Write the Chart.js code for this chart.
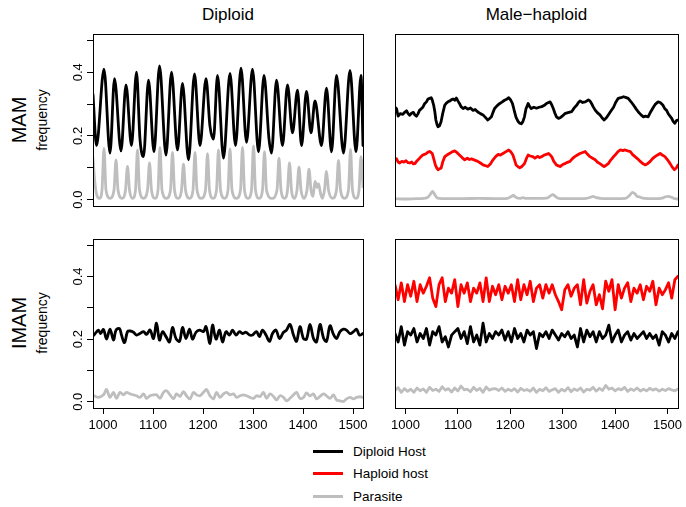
<!DOCTYPE html>
<html><head><meta charset="utf-8">
<script src="https://cdn.jsdelivr.net/npm/chart.js@4/dist/chart.umd.min.js"></script>
<style>
body{margin:0;width:686px;height:507px;background:#fff;position:relative;overflow:hidden;font-family:"Liberation Sans",Arial,Helvetica,sans-serif;color:#000}
canvas{position:absolute}
.title{position:absolute;text-align:center;font-size:17px;line-height:17px;white-space:nowrap}
.rot{position:absolute;transform:translate(-50%,-50%) rotate(-90deg);white-space:nowrap;line-height:1}
.lgl{position:absolute;left:313px;width:30px;height:3px}
.lgt{position:absolute;left:353px;font-size:13.5px;line-height:14px;white-space:nowrap}
</style></head><body>
<canvas id="tl" width="320" height="192" style="left:53px;top:24px"></canvas>
<canvas id="tr" width="301" height="192" style="left:385px;top:24px"></canvas>
<canvas id="bl" width="320" height="214" style="left:53px;top:229px"></canvas>
<canvas id="br" width="301" height="214" style="left:385px;top:229px"></canvas>

<div class="title" style="left:93px;width:270px;top:6px">Diploid</div>
<div class="title" style="left:395px;width:283px;top:6px">Male&#8722;haploid</div>
<div class="rot" style="left:19px;top:120px;font-size:20px">MAM</div>
<div class="rot" style="left:42px;top:120px;font-size:14px">frequency</div>
<div class="rot" style="left:19px;top:323px;font-size:20px">IMAM</div>
<div class="rot" style="left:42px;top:323px;font-size:14px">frequency</div>

<div class="lgl" style="top:450px;background:#000"></div>
<div class="lgt" style="top:445px">Diploid Host</div>
<div class="lgl" style="top:472px;background:#ff0000"></div>
<div class="lgt" style="top:467px">Haploid host</div>
<div class="lgl" style="top:495px;background:#bebebe"></div>
<div class="lgt" style="top:490px">Parasite</div>

<script>
// ---------- axis ticks ----------
const xTickValues = [1000, 1100, 1200, 1300, 1400, 1500];
const yTickValues = [0, 0.1, 0.2, 0.3, 0.4, 0.5];
const yTickLabels = ['0.0', '', '0.2', '', '0.4', ''];

// ---------- MAM / Diploid ----------
const tlHostX = [980,987,1002,1014,1023,1036,1046,1057,1067,1074,
  1081,1091,1102,1113,1126,1137,1149,1159,1171,1183,
  1194,1206,1214,1221,1229,1241,1254,1265,1276,1287,
  1299,1311,1322,1332,1337,1347,1359,1369,1379,1389,
  1397,1407,1416,1424,1437,1447,1457,1467,1481,1494,
  1506,1516,1520];
const tlHostY = [0.33,0.17,0.41,0.146,0.38,0.153,0.36,0.17,0.40,0.19,
  0.135,0.375,0.15,0.42,0.14,0.40,0.156,0.365,0.125,0.395,
  0.17,0.38,0.23,0.19,0.39,0.13,0.396,0.17,0.413,0.18,
  0.41,0.15,0.39,0.19,0.146,0.375,0.17,0.36,0.21,0.344,
  0.17,0.34,0.21,0.31,0.17,0.35,0.15,0.39,0.146,0.406,
  0.15,0.39,0.17];
const tlParaX = [980,984,988,993,998,
  1002,1006,1014,1022, 1026,1030,1038,1045, 1049,1053,1059,1065, 1069,1073,1081,1089,
  1093,1097,1104,1110, 1114,1118,1127,1135, 1139,1143,1150,1157, 1161,1165,1173,1180,
  1184,1188,1197,1205, 1209,1213,1220,1227, 1231,1235,1243,1250, 1254,1258,1267,1275,
  1279,1283,1290,1297, 1301,1305,1312,1319, 1323,1327,1338,1348, 1352,1356,1363,1369,
  1373,1377,1383,1388, 1392,1396,1402,1408, 1412,1416,1420,
  1424,1428,1431,1435,1439,1443, 1447,1451,1459,1467, 1471,1475,1483,1491,
  1495,1499,1506,1512, 1516,1520];
const tlParaY = [0.13,0.05,0.012,0.004,0.03,
  0.161,0.03,0.004,0.03, 0.125,0.03,0.004,0.03, 0.104,0.03,0.004,0.03, 0.156,0.03,0.004,0.03,
  0.115,0.03,0.004,0.03, 0.164,0.03,0.004,0.03, 0.148,0.03,0.004,0.03, 0.111,0.03,0.004,0.03,
  0.148,0.03,0.004,0.03, 0.144,0.03,0.004,0.03, 0.156,0.03,0.004,0.03, 0.159,0.03,0.004,0.03,
  0.164,0.03,0.004,0.03, 0.169,0.03,0.004,0.03, 0.151,0.03,0.004,0.03, 0.13,0.03,0.004,0.03,
  0.115,0.03,0.004,0.03, 0.102,0.03,0.004,0.03, 0.096,0.03,0.01,
  0.057,0.038,0.05,0.02,0.004,0.03, 0.089,0.03,0.004,0.03, 0.123,0.03,0.004,0.03,
  0.158,0.03,0.004,0.03, 0.135,0.04];

// ---------- MAM / Male-haploid ----------
const trDipX = [980,983,986,990,995,999,1002,1005,1008,1012,
  1015,1018,1021,1024,1027,1030,1033,1036,1040,1043,
  1046,1049,1051,1054,1056,1058,1060,1062,1065,1068,
  1071,1075,1078,1081,1085,1088,1091,1094,1097,1100,
  1103,1106,1110,1114,1119,1124,1129,1133,1138,1143,
  1148,1152,1157,1160,1164,1167,1170,1175,1180,1184,
  1189,1193,1197,1201,1204,1206,1208,1211,1215,1218,
  1221,1224,1227,1230,1234,1237,1240,1245,1250,1255,
  1260,1265,1269,1273,1276,1279,1282,1285,1288,1292,
  1295,1299,1304,1310,1317,1322,1327,1330,1333,1338,
  1343,1349,1352,1355,1358,1362,1366,1371,1375,1379,
  1383,1387,1392,1397,1401,1406,1411,1416,1420,1425,
  1430,1435,1440,1444,1449,1454,1458,1463,1468,1473,
  1477,1482,1486,1491,1495,1498,1502,1508,1511,1514,
  1517,1520];
const trDipY = [0.29,0.285,0.262,0.27,0.268,0.275,0.279,0.27,0.265,0.272,
  0.274,0.266,0.262,0.27,0.281,0.285,0.29,0.3,0.307,0.316,
  0.318,0.32,0.313,0.295,0.276,0.25,0.237,0.229,0.232,0.245,
  0.27,0.297,0.303,0.307,0.31,0.314,0.316,0.312,0.319,0.31,
  0.302,0.292,0.286,0.29,0.284,0.288,0.28,0.283,0.275,0.27,
  0.266,0.259,0.25,0.254,0.26,0.274,0.286,0.295,0.302,0.306,
  0.312,0.315,0.32,0.312,0.302,0.29,0.276,0.258,0.245,0.24,
  0.238,0.245,0.26,0.285,0.302,0.292,0.286,0.29,0.287,0.29,
  0.292,0.296,0.302,0.305,0.307,0.298,0.286,0.272,0.26,0.255,
  0.257,0.262,0.27,0.273,0.276,0.288,0.297,0.305,0.31,0.305,
  0.307,0.313,0.31,0.302,0.292,0.281,0.273,0.266,0.257,0.25,
  0.256,0.266,0.278,0.29,0.305,0.318,0.32,0.323,0.321,0.318,
  0.308,0.297,0.285,0.276,0.267,0.26,0.262,0.26,0.276,0.29,
  0.3,0.307,0.305,0.297,0.285,0.281,0.268,0.255,0.245,0.24,
  0.248,0.25];
const trHapX = [980,983,986,989,993,997,1001,1005,1008,1012,
  1015,1018,1021,1024,1028,1033,1036,1040,1043,1046,
  1049,1051,1054,1057,1060,1062,1065,1068,1071,1075,
  1079,1084,1089,1094,1098,1103,1108,1113,1118,1122,
  1126,1132,1138,1143,1148,1152,1157,1162,1167,1172,
  1177,1181,1186,1191,1197,1201,1205,1208,1211,1215,
  1218,1222,1227,1231,1234,1238,1243,1247,1252,1256,
  1260,1265,1270,1273,1276,1279,1283,1288,1292,1295,
  1300,1304,1309,1314,1318,1323,1328,1333,1338,1343,
  1347,1352,1357,1362,1366,1371,1375,1379,1383,1387,
  1392,1396,1400,1405,1410,1415,1419,1424,1429,1433,
  1438,1443,1448,1452,1457,1462,1467,1471,1476,1481,
  1486,1490,1495,1500,1505,1509,1513,1517,1520];
const trHapY = [0.13,0.128,0.118,0.115,0.12,0.118,0.122,0.116,0.115,0.118,
  0.112,0.113,0.12,0.125,0.132,0.14,0.142,0.145,0.149,0.151,
  0.148,0.145,0.128,0.109,0.098,0.094,0.097,0.099,0.118,0.135,
  0.14,0.145,0.15,0.153,0.148,0.14,0.132,0.125,0.13,0.126,
  0.128,0.124,0.12,0.115,0.109,0.107,0.104,0.112,0.125,0.135,
  0.142,0.14,0.145,0.15,0.156,0.15,0.14,0.125,0.109,0.103,
  0.1,0.104,0.113,0.13,0.14,0.137,0.135,0.13,0.136,0.132,
  0.135,0.14,0.143,0.145,0.14,0.135,0.12,0.109,0.106,0.104,
  0.11,0.113,0.117,0.12,0.128,0.135,0.14,0.145,0.148,0.151,
  0.143,0.135,0.13,0.125,0.118,0.113,0.108,0.104,0.108,0.113,
  0.125,0.133,0.14,0.15,0.156,0.154,0.156,0.153,0.151,0.142,
  0.135,0.128,0.12,0.114,0.109,0.113,0.12,0.128,0.135,0.14,
  0.145,0.14,0.135,0.125,0.113,0.102,0.094,0.1,0.109];
const trParaX = [980,1000,1020,1035,1043,1048,1052,1056,1061,1080,
  1110,1140,1170,1195,1201,1206,1211,1218,1224,1230,
  1250,1270,1276,1281,1286,1292,1320,1345,1352,1358,
  1364,1372,1400,1420,1427,1433,1438,1442,1446,1450,
  1456,1475,1490,1496,1502,1508,1514,1520];
const trParaY = [0.003,0.002,0.003,0.004,0.008,0.018,0.026,0.015,0.005,0.003,
  0.003,0.004,0.003,0.004,0.009,0.013,0.007,0.004,0.006,0.004,
  0.004,0.005,0.011,0.016,0.01,0.004,0.003,0.004,0.007,0.01,
  0.006,0.004,0.003,0.004,0.012,0.023,0.018,0.01,0.009,0.006,
  0.004,0.003,0.005,0.009,0.01,0.007,0.003,0.002];

// ---------- IMAM / Diploid ----------
const blHostX = [982,991,995,1001,1007,1014,1021,1026,1033,1037,
  1043,1049,1054,1061,1067,1074,1081,1087,1094,1101,
  1107,1113,1119,1126,1133,1139,1146,1153,1159,1166,
  1173,1179,1186,1193,1201,1206,1214,1219,1226,1233,
  1239,1246,1253,1259,1266,1273,1279,1286,1293,1299,
  1307,1313,1319,1326,1333,1339,1346,1353,1361,1367,
  1374,1381,1387,1394,1401,1407,1414,1421,1427,1434,
  1441,1447,1454,1461,1467,1474,1481,1487,1494,1501,
  1507,1513,1520];
const blHostY = [0.213,0.229,0.218,0.231,0.200,0.232,0.197,0.229,0.234,0.213,
  0.189,0.224,0.226,0.222,0.213,0.218,0.224,0.215,0.229,0.202,
  0.251,0.197,0.224,0.208,0.191,0.237,0.202,0.193,0.237,0.202,
  0.232,0.200,0.222,0.229,0.224,0.240,0.186,0.245,0.200,0.229,
  0.191,0.224,0.213,0.229,0.213,0.224,0.218,0.222,0.213,0.213,
  0.224,0.208,0.229,0.213,0.193,0.218,0.229,0.202,0.222,0.229,
  0.247,0.213,0.193,0.240,0.202,0.200,0.247,0.202,0.191,0.247,
  0.204,0.193,0.243,0.215,0.202,0.224,0.232,0.229,0.218,0.224,
  0.232,0.213,0.218];
const blParaX = [982,991,1001,1007,1014,1021,1027,1034,1041,1047,
  1054,1061,1067,1074,1081,1087,1094,1101,1107,1114,
  1121,1127,1134,1141,1147,1154,1161,1167,1174,1181,
  1187,1194,1201,1207,1214,1221,1227,1234,1241,1247,
  1254,1261,1267,1274,1281,1287,1294,1301,1307,1314,
  1321,1327,1334,1341,1347,1354,1361,1367,1374,1381,
  1387,1394,1401,1407,1414,1421,1427,1434,1441,1447,
  1454,1461,1467,1474,1481,1487,1494,1501,1507,1514,
  1519];
const blParaY = [0.019,0.014,0.022,0.039,0.014,0.030,0.011,0.030,0.022,0.030,
  0.025,0.022,0.019,0.014,0.025,0.011,0.019,0.022,0.022,0.011,
  0.030,0.035,0.022,0.009,0.025,0.017,0.032,0.019,0.009,0.030,
  0.022,0.019,0.030,0.039,0.019,0.009,0.030,0.014,0.025,0.030,
  0.022,0.025,0.014,0.019,0.022,0.019,0.014,0.011,0.019,0.017,
  0.030,0.011,0.025,0.017,0.006,0.019,0.014,0.003,0.011,0.022,
  0.030,0.011,0.014,0.028,0.019,0.025,0.009,0.017,0.025,0.019,
  0.011,0.022,0.006,0.003,0.001,0.009,0.014,0.009,0.014,0.016,
  0.014];

// ---------- IMAM / Male-haploid ----------
const brX = [980,986,992,998,1004,1010,1016,1022,1028,1034,
  1040,1046,1052,1058,1064,1070,1076,1082,1088,1094,
  1100,1106,1112,1118,1124,1130,1136,1142,1148,1154,
  1160,1166,1172,1178,1184,1190,1196,1202,1208,1214,
  1220,1226,1232,1238,1244,1250,1256,1262,1268,1274,
  1280,1286,1292,1298,1304,1310,1316,1322,1328,1334,
  1340,1346,1352,1358,1364,1370,1376,1382,1388,1394,
  1400,1406,1412,1418,1424,1430,1436,1442,1448,1454,
  1460,1466,1472,1478,1484,1490,1496,1502,1508,1514,
  1520];
const brHapY = [0.374,0.326,0.380,0.320,0.374,0.337,0.385,0.320,0.374,0.347,
  0.369,0.396,0.331,0.304,0.374,0.396,0.320,0.363,0.347,0.390,
  0.304,0.374,0.347,0.380,0.320,0.363,0.347,0.380,0.320,0.396,
  0.320,0.369,0.342,0.374,0.326,0.369,0.347,0.374,0.320,0.390,
  0.326,0.374,0.342,0.385,0.320,0.363,0.374,0.331,0.374,0.347,
  0.374,0.342,0.320,0.294,0.358,0.374,0.337,0.363,0.374,0.310,
  0.390,0.315,0.353,0.374,0.310,0.342,0.297,0.385,0.353,0.390,
  0.294,0.374,0.331,0.363,0.380,0.320,0.363,0.347,0.374,0.326,
  0.369,0.353,0.385,0.310,0.363,0.342,0.358,0.380,0.331,0.390,
  0.401];
const brDipY = [0.218,0.191,0.240,0.181,0.224,0.213,0.234,0.191,0.218,0.202,
  0.234,0.181,0.224,0.213,0.240,0.191,0.208,0.175,0.213,0.224,
  0.234,0.202,0.224,0.186,0.240,0.191,0.213,0.181,0.251,0.191,
  0.218,0.202,0.224,0.213,0.229,0.197,0.224,0.191,0.234,0.202,
  0.218,0.191,0.229,0.213,0.224,0.170,0.218,0.208,0.224,0.202,
  0.229,0.213,0.197,0.218,0.208,0.224,0.202,0.213,0.175,0.234,
  0.191,0.229,0.208,0.224,0.191,0.224,0.202,0.213,0.245,0.191,
  0.213,0.229,0.191,0.213,0.224,0.197,0.218,0.202,0.213,0.224,
  0.202,0.218,0.202,0.213,0.181,0.224,0.213,0.191,0.218,0.202,
  0.224];
const brParaY = [0.036,0.045,0.030,0.042,0.033,0.040,0.030,0.044,0.035,0.041,
  0.030,0.046,0.036,0.040,0.033,0.048,0.037,0.042,0.031,0.044,
  0.034,0.050,0.038,0.040,0.032,0.046,0.036,0.043,0.030,0.047,
  0.037,0.041,0.042,0.036,0.044,0.033,0.040,0.035,0.042,0.031,
  0.043,0.036,0.039,0.033,0.044,0.030,0.040,0.035,0.045,0.033,
  0.038,0.042,0.030,0.040,0.034,0.045,0.032,0.041,0.036,0.044,
  0.031,0.040,0.037,0.046,0.034,0.043,0.036,0.052,0.040,0.044,
  0.035,0.042,0.038,0.046,0.033,0.041,0.036,0.044,0.034,0.040,
  0.035,0.043,0.037,0.041,0.034,0.040,0.036,0.042,0.038,0.035,
  0.041];

// ---------- colours ----------
const HOST_DIP = '#000000', HOST_HAP = '#ff0000', PARA = '#bebebe';
const FONT = '"Liberation Sans", Arial, Helvetica, sans-serif';
Chart.defaults.font.family = FONT;

function pts(xs, ys) {
  const n = Math.min(xs.length, ys.length);
  const out = [];
  for (let i = 0; i < n; i++) out.push({x: xs[i], y: ys[i]});
  return out;
}
function ds(xs, ys, color, mode) {
  return {
    data: pts(xs, ys), borderColor: color, backgroundColor: color,
    borderWidth: 2.8, pointRadius: 0, fill: false, clip: 0,
    borderJoinStyle: 'round', borderCapStyle: 'round',
    tension: mode === 'smooth' ? 0.35 : 0,
    cubicInterpolationMode: mode === 'mono' ? 'monotone' : 'default'
  };
}

const boxPlugin = {
  id: 'box',
  afterDraw(chart) {
    const {ctx, chartArea: a} = chart;
    ctx.save();
    ctx.strokeStyle = '#000'; ctx.lineWidth = 1;
    ctx.strokeRect(a.left + 0.5, a.top + 0.5, a.right - a.left, a.bottom - a.top);
    ctx.restore();
  }
};
const yLabelPlugin = {
  id: 'ylab',
  afterDraw(chart) {
    if (!chart.options.showYLabels) return;
    const s = chart.scales.y, ctx = chart.ctx;
    ctx.save();
    ctx.font = '13px ' + FONT; ctx.fillStyle = '#000';
    ctx.textAlign = 'center'; ctx.textBaseline = 'middle';
    yTickValues.forEach((v, i) => {
      if (!yTickLabels[i]) return;
      ctx.save();
      ctx.translate(chart.chartArea.left - 15, s.getPixelForValue(v));
      ctx.rotate(-Math.PI / 2);
      ctx.fillText(yTickLabels[i], 0, 0);
      ctx.restore();
    });
    ctx.restore();
  }
};

function makeChart(id, datasets, showY, showX, padding) {
  return new Chart(document.getElementById(id), {
    type: 'line',
    data: {datasets},
    plugins: [boxPlugin, yLabelPlugin],
    options: {
      responsive: false, animation: false, devicePixelRatio: 1,
      showYLabels: showY,
      layout: {padding},
      plugins: {legend: {display: false}, tooltip: {enabled: false}, title: {display: false}},
      scales: {
        x: {
          type: 'linear', min: 980, max: 1520, display: showX,
          afterBuildTicks(scale) { scale.ticks = xTickValues.map(v => ({value: v})); },
          afterFit(scale) { if (showX) { scale.height = 30; scale.paddingLeft = 0; scale.paddingRight = 0; } else { scale.height = 0; } },
          grid: {display: true, drawOnChartArea: false, drawTicks: true, tickLength: 6, color: '#000', lineWidth: 1},
          border: {display: false},
          ticks: {color: '#000', font: {size: 13, family: FONT}, padding: 4, maxRotation: 0, minRotation: 0,
                  autoSkip: false, callback: v => String(v)}
        },
        y: {
          type: 'linear', min: -0.02, max: 0.52, display: showY,
          afterBuildTicks(scale) { scale.ticks = yTickValues.map(v => ({value: v})); },
          afterFit(scale) { if (showY) { scale.width = 40; scale.paddingTop = 0; scale.paddingBottom = 0; } else { scale.width = 0; } },
          grid: {display: true, drawOnChartArea: false, drawTicks: true, tickLength: 6, color: '#000', lineWidth: 1},
          border: {display: false},
          ticks: {callback: () => '', padding: 0}
        }
      }
    }
  });
}

makeChart('tl', [
  ds(tlParaX, tlParaY, PARA, 'mono'),
  ds(tlHostX, tlHostY, HOST_DIP, 'mono')
], true, false, {left: 0, top: 10, right: 10, bottom: 10});

makeChart('tr', [
  ds(trParaX, trParaY, PARA, 'mono'),
  ds(trHapX, trHapY, HOST_HAP, 'line'),
  ds(trDipX, trDipY, HOST_DIP, 'line')
], false, false, {left: 10, top: 10, right: 8, bottom: 10});

makeChart('bl', [
  ds(blParaX, blParaY, PARA, 'smooth'),
  ds(blHostX, blHostY, HOST_DIP, 'smooth')
], true, true, {left: 0, top: 10, right: 10, bottom: 5});

makeChart('br', [
  ds(brX, brParaY, PARA, 'line'),
  ds(brX, brHapY, HOST_HAP, 'line'),
  ds(brX, brDipY, HOST_DIP, 'line')
], false, true, {left: 10, top: 10, right: 8, bottom: 5});
</script>
</body></html>
